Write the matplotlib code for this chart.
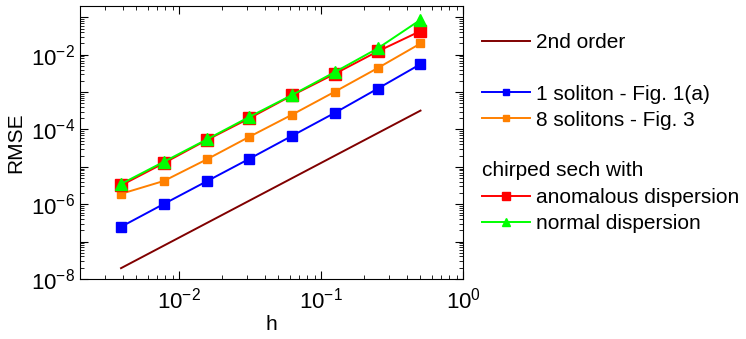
import matplotlib
matplotlib.use("Agg")
from matplotlib import pyplot as plt
from matplotlib.lines import Line2D
import matplotlib.ticker as ticker
import numpy as np

plt.rcParams.update({'font.family': 'Liberation Sans', 'font.size': 15,
                     'mathtext.default': 'regular'})

# step sizes
h = [0.00390625, 0.0078125, 0.015625, 0.03125, 0.0625, 0.125, 0.25, 0.5]

# RMSE values
one_soliton = [2.5e-7, 1.02e-6, 4.1e-6, 1.65e-5, 6.8e-5, 2.8e-4, 1.24e-3, 5.6e-3]
eight_solitons = [1.9e-6, 4.2e-6, 1.58e-5, 6.4e-5, 2.5e-4, 1.03e-3, 4.4e-3, 2.0e-2]
anomalous = [3.2e-6, 1.26e-5, 5.2e-5, 2.0e-4, 8.2e-4, 3.1e-3, 1.23e-2, 4.3e-2]
normal = [3.5e-6, 1.37e-5, 5.4e-5, 2.18e-4, 8.4e-4, 3.45e-3, 1.48e-2, 8.6e-2]

# 2nd order reference line end points
ref_h = [0.0039, 0.5]
ref_err = [1.95e-8, 3.2e-4]

fig = plt.figure(figsize=(7.46, 3.39), dpi=100)
ax = fig.add_axes([0.107, 0.177, 0.514, 0.805])
lw = 1.4

l_ref, = ax.plot(ref_h, ref_err, color='#800000', linewidth=lw)
l_one, = ax.plot(h, one_soliton, color='#0000ff', marker='s', markersize=6.5, linewidth=lw)
l_eight, = ax.plot(h, eight_solitons, color='#ff8000', marker='s', markersize=6, linewidth=lw)
l_anom, = ax.plot(h, anomalous, color='#ff0000', marker='s', markersize=8, linewidth=lw)
l_norm, = ax.plot(h, normal, color='#00ff00', marker='^', markersize=8.5, linewidth=lw)

ax.set_xscale("log")
ax.set_yscale("log")
ax.set_xlim(0.002, 1)
ax.set_ylim(1e-8, 0.2)
ax.set_xlabel("h", labelpad=1)
ax.set_ylabel("RMSE")

ax.xaxis.set_major_locator(ticker.LogLocator(base=10))
ax.xaxis.set_minor_locator(ticker.LogLocator(base=10, subs=range(2, 10)))
ax.xaxis.set_minor_formatter(ticker.NullFormatter())
ax.yaxis.set_major_locator(ticker.FixedLocator([10.0 ** e for e in range(-8, 0)]))
ax.yaxis.set_minor_locator(ticker.LogLocator(base=10, subs=range(2, 10), numticks=20))
ax.yaxis.set_minor_formatter(ticker.NullFormatter())


# only every second decade gets a label on the y axis
def yfmt(v, pos):
    e = int(round(np.log10(v)))
    return '$10^{%d}$' % e if e % 2 == 0 else ''


ax.yaxis.set_major_formatter(ticker.FuncFormatter(yfmt))
ax.xaxis.set_major_formatter(ticker.FuncFormatter(lambda v, p: '$10^{%d}$' % int(round(np.log10(v)))))
ax.tick_params(which='both', direction='in', top=True, right=True)
ax.tick_params(which='major', length=6, labelsize=16)
ax.tick_params(which='minor', length=3)
ax.tick_params(axis='x', pad=6)

blank = Line2D([], [], linestyle='none')
handles = [l_ref, blank, l_one, l_eight, blank, blank, l_anom, l_norm]
labels = ["2nd order", "", "1 soliton - Fig. 1(a)", "8 solitons - Fig. 3", "", "", "anomalous dispersion", "normal dispersion"]
leg = fig.legend(handles, labels, loc='upper left', bbox_to_anchor=(0.646, 0.903),
                 frameon=False, handlelength=2.3, handletextpad=0.3,
                 labelspacing=0.33, markerscale=0.7, borderaxespad=0, borderpad=0)
fig.text(0.646, 0.496, "chirped sech with", va='center', ha='left')

plt.savefig("out.png", dpi=100)
